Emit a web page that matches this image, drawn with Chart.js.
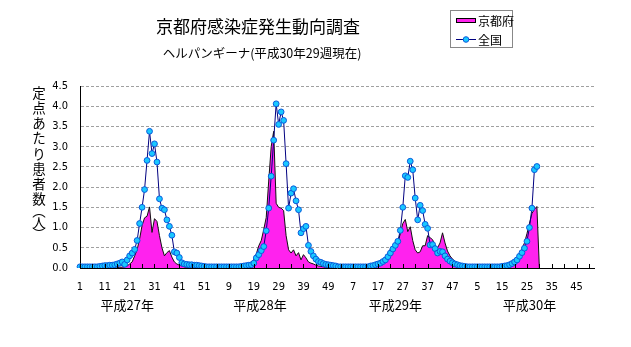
<!DOCTYPE html>
<html>
<head>
<meta charset="utf-8">
<script src="https://cdn.jsdelivr.net/npm/chart.js@4"></script>
<style>
  body { margin: 0; background: #fff; }
  #wrap { width: 631px; height: 347px; }
</style>
</head>
<body>
<div id="wrap"><canvas id="myChart" width="631" height="347"></canvas></div>
<script>
var years = ['平成27年', '平成28年', '平成29年', '平成30年'];
var yTicks = [0, 0.5, 1, 1.5, 2, 2.5, 3, 3.5, 4, 4.5];

var kyoto2015 = [0,0,0,0,0,0,0,0,0,0,0,0,0,0,0,0,0.02,0.02,0.03,0.05,0.1,0.15,0.3,0.45,0.72,1.05,1.24,1.28,1.51,0.88,1.22,1.15,0.8,0.5,0.3,0.38,0.43,0.27,0.15,0.1,0.07,0.05,0.03,0.02,0,0,0,0,0,0,0,0];
var kyoto2016 = [0,0,0,0,0,0,0,0,0,0,0,0,0,0,0,0.02,0.05,0.1,0.22,0.35,0.55,0.68,0.95,1.25,2.15,3.0,3.38,1.6,1.5,1.48,1.42,0.8,0.45,0.37,0.45,0.3,0.38,0.2,0.33,0.25,0.15,0.12,0.1,0.07,0.05,0.04,0.03,0.02,0,0,0,0];
var kyoto2017 = [0.02,0.02,0.02,0.02,0.02,0.02,0.02,0.02,0.02,0.02,0.02,0.02,0.02,0.02,0.02,0.14,0.07,0.1,0.18,0.28,0.35,0.47,0.52,0.56,0.62,0.85,1.1,1.2,0.9,1.02,0.68,0.45,0.37,0.4,0.55,0.55,0.8,0.75,0.7,0.55,0.5,0.62,0.87,0.62,0.42,0.3,0.22,0.17,0.12,0.08,0.05,0.03];
var kyoto2018 = [0,0,0,0,0,0,0,0,0,0,0,0,0,0,0,0,0,0.02,0.04,0.08,0.16,0.3,0.48,0.62,0.85,1.1,1.35,1.45,1.52,0];

var zenkoku2015 = [0.03,0.03,0.03,0.03,0.03,0.03,0.03,0.03,0.04,0.05,0.06,0.06,0.07,0.07,0.08,0.1,0.12,0.15,0.09,0.2,0.3,0.37,0.46,0.68,1.1,1.5,1.94,2.66,3.38,2.83,3.07,2.62,1.71,1.48,1.44,1.19,1.03,0.81,0.4,0.37,0.26,0.13,0.1,0.09,0.08,0.08,0.07,0.07,0.06,0.05,0.04,0.03];
var zenkoku2016 = [0.03,0.03,0.03,0.03,0.03,0.03,0.03,0.03,0.03,0.03,0.03,0.03,0.03,0.04,0.05,0.06,0.07,0.08,0.12,0.25,0.33,0.43,0.53,0.92,1.48,2.27,3.16,4.06,3.55,3.86,3.65,2.58,1.48,1.85,1.96,1.66,1.44,0.87,0.97,1.03,0.56,0.41,0.3,0.22,0.16,0.14,0.11,0.09,0.08,0.07,0.06,0.05];
var zenkoku2017 = [0.03,0.03,0.03,0.03,0.03,0.03,0.03,0.03,0.03,0.03,0.03,0.03,0.03,0.05,0.06,0.08,0.1,0.12,0.16,0.2,0.28,0.37,0.47,0.56,0.66,0.93,1.5,2.28,2.24,2.64,2.43,1.73,1.19,1.55,1.42,1.08,0.98,0.57,0.58,0.48,0.37,0.41,0.4,0.3,0.22,0.17,0.13,0.1,0.08,0.06,0.05,0.04];
var zenkoku2018 = [0.03,0.03,0.03,0.03,0.03,0.03,0.03,0.03,0.03,0.03,0.03,0.03,0.03,0.03,0.04,0.05,0.06,0.08,0.11,0.15,0.2,0.29,0.38,0.49,0.66,1.0,1.48,2.43,2.51];

// 52 weeks per year, 4 years on one axis
var weeks = [];
for (var y = 0; y < years.length; y++) {
  for (var w = 1; w <= 52; w++) weeks.push(String(w));
}
var kyoto = kyoto2015.concat(kyoto2016, kyoto2017, kyoto2018);
var zenkoku = zenkoku2015.concat(zenkoku2016, zenkoku2017, zenkoku2018);

var jp = "'Noto Sans CJK JP', sans-serif";
var narrow = "'Liberation Sans Narrow', 'DejaVu Sans Condensed', sans-serif";
var pink = '#ff22ee';

var extras = {
  id: 'extras',
  afterDatasetsDraw: function(chart) {
    var ctx = chart.ctx;
    var xs = chart.scales.x;
    var bottom = chart.chartArea.bottom;
    ctx.save();
    // small inward tick marks every 5 weeks
    ctx.strokeStyle = '#000';
    ctx.lineWidth = 1;
    for (var i = 0; i < weeks.length; i += 5) {
      var px = Math.round(xs.getPixelForValue(i)) + 0.5;
      ctx.beginPath();
      ctx.moveTo(px, bottom);
      ctx.lineTo(px, bottom - 4);
      ctx.stroke();
    }
    ctx.restore();
  },
  afterDraw: function(chart) {
    var ctx = chart.ctx;
    var xs = chart.scales.x;
    ctx.save();
    ctx.fillStyle = '#000';
    ctx.textAlign = 'center';
    ctx.textBaseline = 'middle';
    ctx.font = '17px ' + jp;
    ctx.fillText('京都府感染症発生動向調査', 258, 27);
    ctx.font = '12.5px ' + jp;
    ctx.fillText('ヘルパンギーナ(平成30年29週現在)', 262, 53);

    // vertical axis title, upright characters
    var chars = ['定', '点', 'あ', 'た', 'り', '患', '者', '数', '︵', '人', '︶'];
    var cy = [93, 108, 123, 138, 154, 169, 184, 199, 211, 223, 234];
    ctx.font = '13.5px ' + jp;
    for (var k = 0; k < chars.length; k++) ctx.fillText(chars[k], 39, cy[k]);

    // year captions under the axis
    var at = [19, 72.5, 127, 181];
    ctx.font = '13px ' + jp;
    for (var j = 0; j < years.length; j++) {
      ctx.fillText(years[j], xs.getPixelForValue(at[j]), 305);
    }

    // legend box
    ctx.strokeStyle = '#888';
    ctx.strokeRect(450.5, 10.5, 62, 37);
    ctx.fillStyle = pink;
    ctx.fillRect(456, 18, 20, 5);
    ctx.strokeStyle = '#000';
    ctx.strokeRect(456.5, 18.5, 19, 4);
    ctx.strokeStyle = '#000080';
    ctx.beginPath();
    ctx.moveTo(456, 39.5);
    ctx.lineTo(476, 39.5);
    ctx.stroke();
    ctx.beginPath();
    ctx.arc(466, 39.5, 2.8, 0, Math.PI * 2);
    ctx.fillStyle = '#19c8ff';
    ctx.fill();
    ctx.strokeStyle = '#0a5adc';
    ctx.stroke();
    ctx.fillStyle = '#000';
    ctx.textAlign = 'left';
    ctx.font = '12px ' + jp;
    ctx.fillText('京都府', 478, 21);
    ctx.fillText('全国', 478, 40);
    ctx.restore();
  }
};

var ctx = document.getElementById('myChart').getContext('2d');
var myChart = new Chart(ctx, {
  type: 'line',
  data: {
    labels: weeks,
    datasets: [{
      label: '全国',
      data: zenkoku,
      order: 0,
      borderColor: '#000080',
      borderWidth: 1,
      pointRadius: 2.9,
      pointBorderWidth: 1,
      pointBackgroundColor: '#19c8ff',
      pointBorderColor: '#0a5adc',
      tension: 0,
      fill: false
    }, {
      label: '京都府',
      data: kyoto,
      order: 1,
      borderColor: '#111',
      borderWidth: 1,
      backgroundColor: pink,
      pointRadius: 0,
      tension: 0,
      fill: 'origin'
    }]
  },
  options: {
    responsive: false,
    animation: false,
    devicePixelRatio: 1,
    layout: { padding: { left: 0, right: 37, top: 86, bottom: 54 } },
    plugins: {
      legend: { display: false },
      tooltip: { enabled: false }
    },
    scales: {
      x: {
        grid: { display: false },
        border: { display: true, color: '#000', width: 1 },
        ticks: {
          autoSkip: false,
          maxRotation: 0,
          padding: 5,
          color: '#000',
          font: { family: narrow, size: 11 },
          callback: function(v, i) { return i % 10 === 0 ? weeks[i] : ''; }
        },
        afterFit: function(s) { s.height = 25; }
      },
      y: {
        min: 0,
        max: 4.5,
        afterBuildTicks: function(s) { s.ticks = yTicks.map(function(v) { return { value: v }; }); },
        grid: {
          drawTicks: false,
          color: function(c) { return c.tick && c.tick.value === 0 ? 'rgba(0,0,0,0)' : '#a0a0a0'; }
        },
        border: { display: true, color: '#000', width: 1, dash: [3, 2] },
        ticks: {
          padding: 12,
          color: '#000',
          font: { family: narrow, size: 11 },
          callback: function(v) { return v.toFixed(1); }
        },
        afterFit: function(s) { s.width = 80; }
      }
    }
  },
  plugins: [extras]
});
</script>
</body>
</html>
